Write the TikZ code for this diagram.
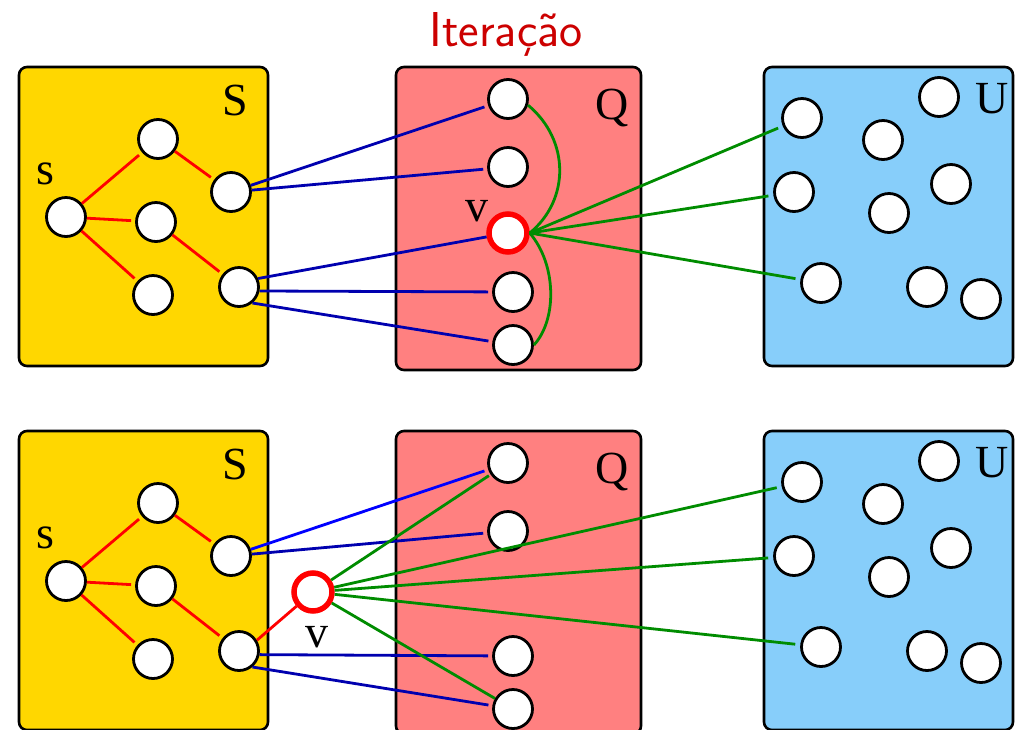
\documentclass[tikz,border=0pt]{standalone}
\usepackage{fontspec}
\setmainfont{Liberation Serif}
\definecolor{sfill}{RGB}{255,215,0}
\definecolor{qfill}{RGB}{255,128,128}
\definecolor{ufill}{RGB}{135,206,250}
\definecolor{eblue}{RGB}{0,0,175}
\definecolor{bblue}{RGB}{0,0,255}
\definecolor{egreen}{RGB}{0,140,0}
\definecolor{ered}{RGB}{255,0,0}
\definecolor{tred}{RGB}{204,0,0}
\tikzset{
  vtx/.style={circle, draw=black, fill=white, line width=2.8pt, minimum size=39pt, inner sep=0pt},
  vsel/.style={circle, draw=ered, fill=white, line width=5.5pt, minimum size=38pt, inner sep=0pt},
  setbox/.style={draw=black, line width=2.6pt, rounded corners=8pt},
  lbl/.style={font=\fontsize{46}{46}\selectfont, anchor=base, inner sep=0pt},
  redge/.style={draw=ered, line width=2.8pt, shorten >=4pt},
  bedge/.style={draw=eblue, line width=2.8pt, shorten >=4pt},
  bbedge/.style={draw=bblue, line width=2.8pt, shorten >=4pt},
  gedge/.style={draw=egreen, line width=2.8pt, shorten >=4pt},
}
\begin{document}
\begin{tikzpicture}[x=1pt,y=1pt]
\useasboundingbox (0,0) rectangle (1015,-729);
\node[font=\sffamily\fontsize{49}{49}\selectfont, text=tred, anchor=base, inner sep=0pt] (title) at (506,-46) {Iteração};
\foreach \r/\dy in {a/0,b/364}{
  \draw[setbox, fill=sfill] (19,{-67-\dy}) rectangle (268,{-366-\dy});
  \draw[setbox, fill=qfill] (396,{-67-\dy}) rectangle (641,{-370-\dy});
  \draw[setbox, fill=ufill] (764,{-67-\dy}) rectangle (1013,{-366-\dy});
  \node[lbl] (\r labS) at (235,{-115-\dy}) {S};
  \node[lbl] (\r labQ) at (612,{-119-\dy}) {Q};
  \node[lbl] (\r labU) at (992,{-113-\dy}) {U};
  \node[lbl] (\r labs) at (45,{-184-\dy}) {s};
  % S set
  \node[vtx] (\r s) at (66,{-217-\dy}) {};
  \node[vtx] (\r t) at (158,{-139-\dy}) {};
  \node[vtx] (\r m) at (156,{-222-\dy}) {};
  \node[vtx] (\r b) at (153,{-295-\dy}) {};
  \node[vtx] (\r ru) at (231,{-192-\dy}) {};
  \node[vtx] (\r rl) at (239,{-287-\dy}) {};
  % Q set
  \node[vtx] (\r q1) at (508,{-99-\dy}) {};
  \node[vtx] (\r q2) at (508,{-167-\dy}) {};
  \node[vtx] (\r q4) at (513,{-292-\dy}) {};
  \node[vtx] (\r q5) at (513,{-345-\dy}) {};
  % U set
  \node[vtx] (\r u1) at (939,{-97-\dy}) {};
  \node[vtx] (\r u2) at (802,{-118-\dy}) {};
  \node[vtx] (\r u3) at (883,{-140-\dy}) {};
  \node[vtx] (\r u4) at (951,{-184-\dy}) {};
  \node[vtx] (\r u5) at (794,{-192-\dy}) {};
  \node[vtx] (\r u6) at (889,{-213-\dy}) {};
  \node[vtx] (\r u7) at (821,{-283-\dy}) {};
  \node[vtx] (\r u8) at (927,{-287-\dy}) {};
  \node[vtx] (\r u9) at (981,{-299-\dy}) {};
  % tree edges
  \draw[redge] (\r s) -- (\r t);
  \draw[redge] (\r s) -- (\r m);
  \draw[redge] (\r s) -- (\r b);
  \draw[redge] (\r t) -- (\r ru);
  \draw[redge] (\r m) -- (\r rl);
}
% top row: v inside Q
\node[vsel] (av) at (508,-233) {};
\node[lbl] (avlab) at (477,-221) {v};
\draw[bedge] (aru) -- (aq1);
\draw[bedge] (aru) -- (aq2);
\draw[bedge, shorten >=0pt] (arl.24) -- (av);
\draw[bedge] (arl.-11) -- (aq4);
\draw[bedge] (arl.-50) -- (aq5);
\draw[gedge, shorten >=0pt] (aq1.-17) .. controls (570,-140) and (570,-200) .. (av.east);
\draw[gedge, shorten >=0pt] (av.east) .. controls (557,-265) and (557,-320) .. (aq5.0);
\draw[gedge, shorten >=5pt] (av.east) -- (au2);
\draw[gedge, shorten >=5pt] (av.east) -- (au5);
\draw[gedge, shorten >=5pt] (av.east) -- (au7);
% bottom row: v moved out of Q
\node[vsel] (bv) at (313,-592) {};
\node[lbl] (bvlab) at (317,-647) {v};
\draw[redge, shorten >=0pt] (brl.31) -- (bv);
\draw[bbedge] (bru) -- (bq1);
\draw[bedge] (bru) -- (bq2);
\draw[bedge] (brl.-10) -- (bq4);
\draw[bedge] (brl.-50) -- (bq5);
\draw[gedge, shorten >=2pt] (bv) -- (bq1);
\draw[gedge, shorten >=0pt] (bv) -- (bq5);
\draw[gedge, shorten >=5pt] (bv) -- (bu2);
\draw[gedge, shorten >=5pt] (bv) -- (bu5);
\draw[gedge, shorten >=5pt] (bv) -- (bu7);
\end{tikzpicture}
\end{document}
